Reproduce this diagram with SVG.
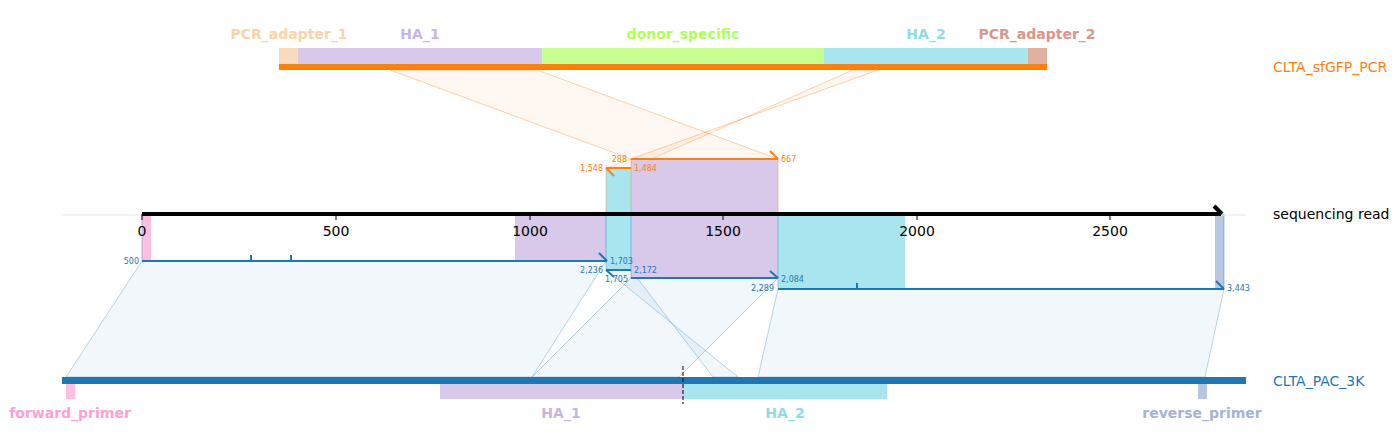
<svg xmlns="http://www.w3.org/2000/svg" width="1399" height="448" viewBox="0 0 1399 448">
<style>
text{font-family:"DejaVu Sans","Liberation Sans",sans-serif}
.flab{font-size:14px;font-weight:bold;text-anchor:middle}
.name{font-size:14px}
.tick{font-size:14px;text-anchor:middle;fill:#000}
.on{font-size:8px;fill:#ff7f0e}
.bn{font-size:8px;fill:#1f77b4}
.r{text-anchor:end}
.otrap{fill:#ff7f0e;fill-opacity:0.06;stroke:#ff7f0e;stroke-opacity:0.35;stroke-width:1}
.btrap{fill:#1f77b4;fill-opacity:0.06;stroke:#1f77b4;stroke-opacity:0.3;stroke-width:1}
.oseg{stroke:#ff7f0e;stroke-width:2;fill:none}
.bseg{stroke:#1f77b4;stroke-width:2;fill:none}
.ha1{fill:#d8c8ea}
.ha2{fill:#a9e5ef}
</style>
<rect width="1399" height="448" fill="#fff"/>

<g id="connectors">
  <polygon class="otrap" points="390,70 537,70 778,159 631,159"/>
  <polygon class="otrap" points="853,70 878,70 606,168 631,168"/>
  <polygon class="btrap" points="142,261 606,261 532,377 66,377"/>
  <polygon class="btrap" points="606,270 631,270 713,377 738,377"/>
  <polygon class="btrap" points="631,278 778,278 679,377 532,377"/>
  <polygon class="btrap" points="778,289 1224,289 1205,377 758,377"/>
</g>

<g id="read-features">
  <rect class="ha1" x="515" y="214" width="91" height="47"/>
  <rect class="ha2" x="606" y="168" width="25" height="102"/>
  <rect class="ha1" x="631" y="159" width="147" height="119"/>
  <rect class="ha2" x="778" y="214" width="127" height="75"/>
  <rect x="142" y="214" width="9" height="47" fill="#ffbfe0"/>
  <rect x="1215" y="214" width="9" height="75" fill="#b9c6e0"/>
  <g stroke-width="1" fill="none">
    <line x1="606" y1="168" x2="606" y2="214" stroke="#ff7f0e" stroke-opacity="0.4"/>
    <line x1="631" y1="159" x2="631" y2="214" stroke="#ff7f0e" stroke-opacity="0.4"/>
    <line x1="778" y1="159" x2="778" y2="214" stroke="#ff7f0e" stroke-opacity="0.4"/>
    <line x1="606" y1="214" x2="606" y2="270" stroke="#1f77b4" stroke-opacity="0.4"/>
    <line x1="631" y1="214" x2="631" y2="278" stroke="#1f77b4" stroke-opacity="0.4"/>
    <line x1="778" y1="214" x2="778" y2="289" stroke="#1f77b4" stroke-opacity="0.4"/>
    <line x1="142" y1="214" x2="142" y2="261" stroke="#1f77b4" stroke-opacity="0.4"/>
    <line x1="1224" y1="214" x2="1224" y2="289" stroke="#1f77b4" stroke-opacity="0.4"/>
  </g>
</g>

<g id="CLTA_sfGFP_PCR">
  <rect x="279" y="48" width="19" height="16" fill="#f9dcbf"/>
  <rect class="ha1" x="298" y="48" width="244" height="16"/>
  <rect x="542" y="48" width="282" height="16" fill="#c8ff90"/>
  <rect class="ha2" x="824" y="48" width="204" height="16"/>
  <rect x="1028" y="48" width="19" height="16" fill="#e0b0a0"/>
  <rect x="279" y="64" width="768" height="6" fill="#ff7f0e"/>
  <text class="flab" x="289" y="39" fill="#f9d4a9">PCR_adapter_1</text>
  <text class="flab" x="420" y="39" fill="#c8b4e8">HA_1</text>
  <text class="flab" x="683" y="39" fill="#b0ff60">donor_specific</text>
  <text class="flab" x="926" y="39" fill="#8ddcea">HA_2</text>
  <text class="flab" x="1037" y="39" fill="#d9978a">PCR_adapter_2</text>
  <text class="name" x="1273" y="72" fill="#ff7f0e">CLTA_sfGFP_PCR</text>
</g>

<g id="sequencing-read">
  <line x1="62" y1="215" x2="1246" y2="215" stroke="#e6e6e6" stroke-width="1"/>
  <line x1="142" y1="214" x2="1221" y2="214" stroke="#000" stroke-width="4"/>
  <polyline points="1214,206 1222,214" stroke="#000" stroke-width="4" fill="none"/>
  <g stroke="#000" stroke-width="1">
    <line x1="142" y1="214" x2="142" y2="220"/>
    <line x1="336" y1="214" x2="336" y2="220"/>
    <line x1="530" y1="214" x2="530" y2="220"/>
    <line x1="723" y1="214" x2="723" y2="220"/>
    <line x1="917" y1="214" x2="917" y2="220"/>
    <line x1="1110" y1="214" x2="1110" y2="220"/>
  </g>
  <text class="tick" x="142" y="236">0</text>
  <text class="tick" x="336" y="236">500</text>
  <text class="tick" x="530" y="236">1000</text>
  <text class="tick" x="723" y="236">1500</text>
  <text class="tick" x="917" y="236">2000</text>
  <text class="tick" x="1110" y="236">2500</text>
  <text class="name" x="1273" y="219" fill="#000">sequencing read</text>
</g>

<g id="alignments-top">
  <line class="oseg" x1="631" y1="159" x2="778" y2="159"/>
  <line class="oseg" x1="770" y1="151" x2="778" y2="159"/>
  <line class="oseg" x1="606" y1="168" x2="631" y2="168"/>
  <line class="oseg" x1="606" y1="168" x2="614" y2="176"/>
  <text class="on r" x="627" y="162">288</text>
  <text class="on" x="781" y="162">667</text>
  <text class="on r" x="603" y="171">1,548</text>
  <text class="on" x="634" y="171">1,484</text>
</g>

<g id="alignments-bottom">
  <line class="bseg" x1="142" y1="261" x2="607" y2="261"/>
  <line class="bseg" x1="599" y1="253" x2="607" y2="261"/>
  <line class="bseg" x1="251" y1="255" x2="251" y2="261"/>
  <line class="bseg" x1="291" y1="255" x2="291" y2="261"/>
  <line class="bseg" x1="606" y1="270" x2="631" y2="270"/>
  <line class="bseg" x1="606" y1="270" x2="614" y2="277"/>
  <line class="bseg" x1="631" y1="278" x2="778" y2="278"/>
  <line class="bseg" x1="770" y1="271" x2="778" y2="278"/>
  <line class="bseg" x1="778" y1="289" x2="1224" y2="289"/>
  <line class="bseg" x1="1216" y1="281" x2="1224" y2="289"/>
  <line class="bseg" x1="857" y1="283" x2="857" y2="289"/>
  <text class="bn r" x="139" y="264">500</text>
  <text class="bn" x="610" y="264">1,703</text>
  <text class="bn r" x="603" y="273">2,236</text>
  <text class="bn" x="634" y="273">2,172</text>
  <text class="bn r" x="628" y="282">1,705</text>
  <text class="bn" x="781" y="282">2,084</text>
  <text class="bn r" x="774" y="291">2,289</text>
  <text class="bn" x="1227" y="291">3,443</text>
</g>

<g id="CLTA_PAC_3K">
  <rect x="66" y="383" width="9" height="16" fill="#ffbfe0"/>
  <rect class="ha1" x="440" y="383" width="243" height="16"/>
  <rect class="ha2" x="683" y="383" width="204" height="16"/>
  <rect x="1198" y="383" width="9" height="16" fill="#b9c6e0"/>
  <rect x="62" y="377" width="1184" height="7" fill="#1f77b4"/>
  <line x1="683" y1="366" x2="683" y2="404" stroke="#000" stroke-width="1" stroke-dasharray="4,2"/>
  <text class="flab" x="70" y="418" fill="#ff9fd6">forward_primer</text>
  <text class="flab" x="561" y="418" fill="#c8b4e8">HA_1</text>
  <text class="flab" x="785" y="418" fill="#8ddcea">HA_2</text>
  <text class="flab" x="1202" y="418" fill="#a4b3d6">reverse_primer</text>
  <text class="name" x="1273" y="386" fill="#1f77b4">CLTA_PAC_3K</text>
</g>
</svg>
